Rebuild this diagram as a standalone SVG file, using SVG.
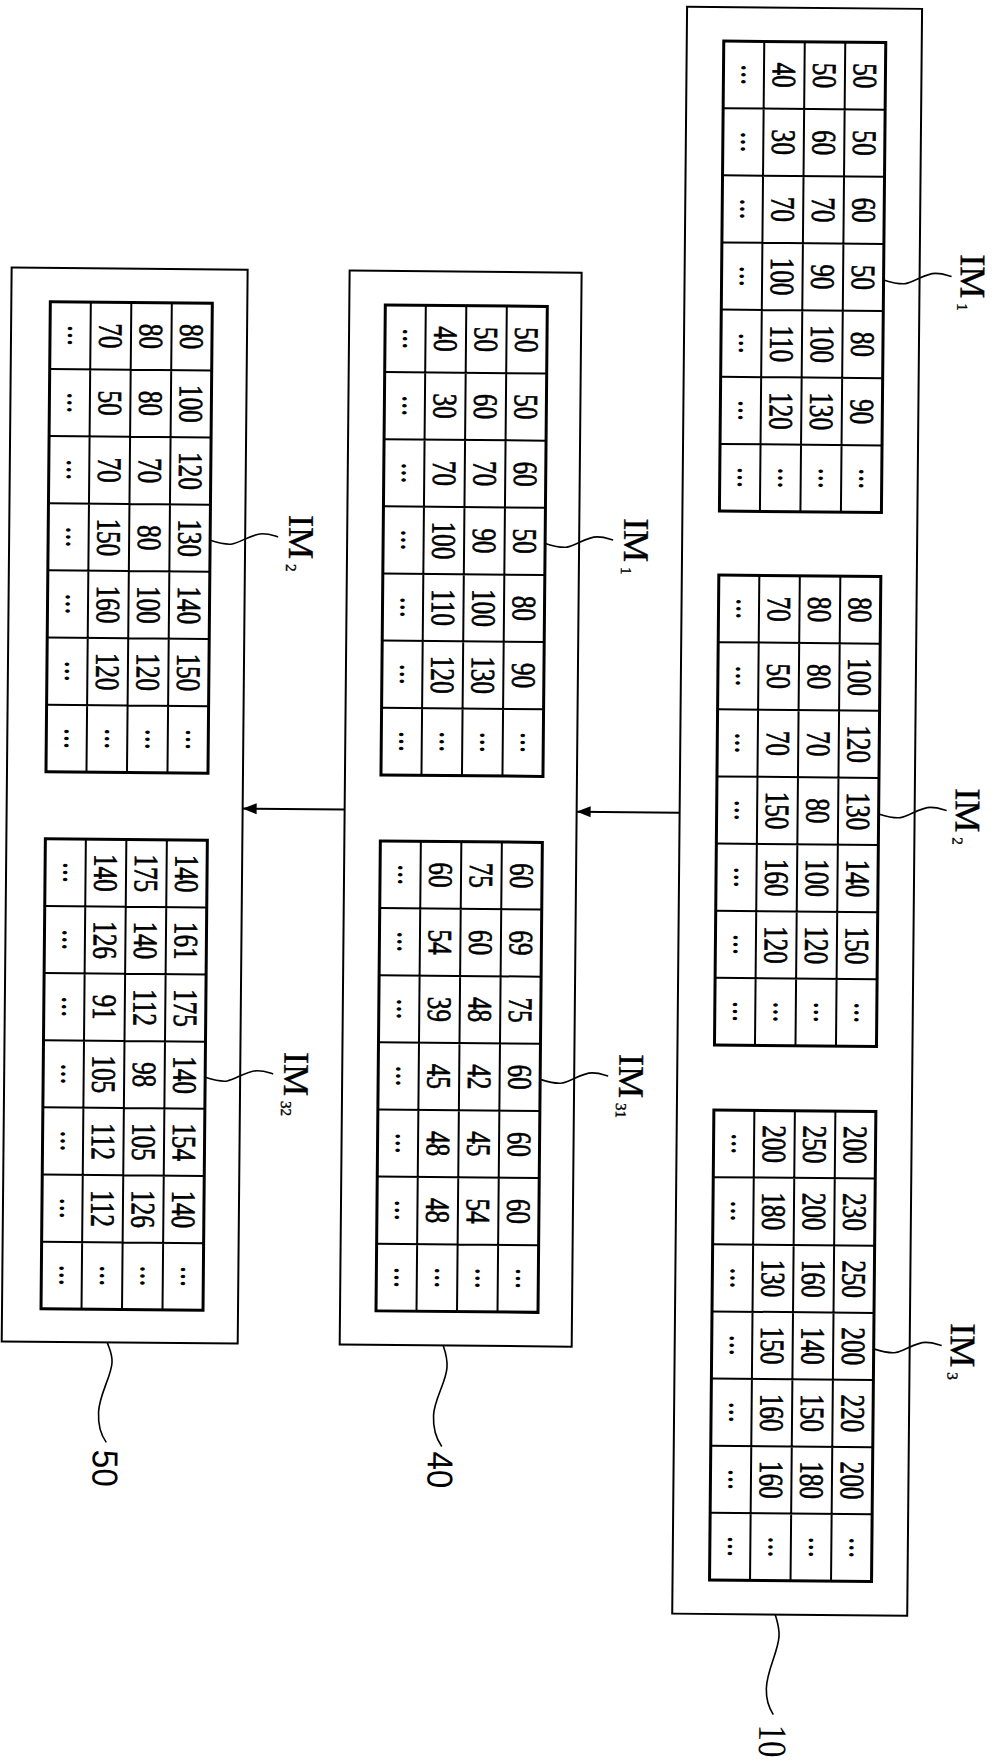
<svg xmlns="http://www.w3.org/2000/svg" xmlns:xlink="http://www.w3.org/1999/xlink" width="1002" height="1764" viewBox="0 0 1002 1764">
<style>
.num{font-family:"Liberation Serif",serif;font-size:34px;text-anchor:middle;fill:#000;stroke:#000;stroke-width:0.7}
.dot{font-size:28px;stroke-width:1.2}
.lbl{font-family:"Liberation Serif",serif;font-size:36px;fill:#000;stroke:#000;stroke-width:0.4}
.sub{font-size:15px}
.ref{font-family:"Liberation Sans",sans-serif;font-size:36px;text-anchor:middle;fill:#000}
.refs{font-family:"Liberation Serif",serif;font-size:40px;text-anchor:middle;fill:#000}
.box{fill:#fff;stroke:#000;stroke-width:2}
.tb{fill:none;stroke:#000;stroke-width:3}
.gl{fill:none;stroke:#000;stroke-width:2}
.ld{fill:none;stroke:#000;stroke-width:1.6}
.ar{fill:none;stroke:#000;stroke-width:2}
</style>
<defs>
<marker id="ah" markerUnits="userSpaceOnUse" markerWidth="14" markerHeight="12" refX="14" refY="6" orient="auto">
<path d="M0,0.5 L14,6 L0,11.5 z" fill="#000"/>
</marker>
<g id="grid">
<rect x="0" y="0" width="162" height="470" fill="#fff"/>
<path class="gl" d="M40.5,0V470M81,0V470M121.5,0V470M0,67.14H162M0,134.29H162M0,201.43H162M0,268.57H162M0,335.71H162M0,402.86H162"/>
<rect class="tb" x="0" y="0" width="162" height="470"/>
</g>
<g id="dots" class="num dot">
<g transform="translate(20.25,0) rotate(90) scale(0.75,1)">
<text x="44.76" y="1.5">…</text><text x="134.29" y="1.5">…</text><text x="223.81" y="1.5">…</text><text x="313.33" y="1.5">…</text><text x="402.86" y="1.5">…</text><text x="492.38" y="1.5">…</text><text x="581.9" y="1.5">…</text>
</g>
<g transform="translate(60.75,0) rotate(90) scale(0.75,1)"><text x="581.9" y="1.5">…</text></g>
<g transform="translate(101.25,0) rotate(90) scale(0.75,1)"><text x="581.9" y="1.5">…</text></g>
<g transform="translate(141.75,0) rotate(90) scale(0.75,1)"><text x="581.9" y="1.5">…</text></g>
</g>
</defs>
<rect x="0" y="0" width="1002" height="1764" fill="#fff"/>
<g transform="rotate(0.53 500 880)">

<g id="box10">
<rect class="box" x="679" y="5" width="235" height="1607"/>
<g id="box10-im1" transform="translate(716,39)">
<use xlink:href="#grid" href="#grid"/><use xlink:href="#dots" href="#dots"/>
<g class="num" transform="translate(141.75,0) rotate(90) scale(0.74,1)"><text x="45.36" y="11.5">50</text><text x="136.09" y="11.5">50</text><text x="226.84" y="11.5">60</text><text x="317.57" y="11.5">50</text><text x="408.3" y="11.5">80</text><text x="499.04" y="11.5">90</text></g>
<g class="num" transform="translate(101.25,0) rotate(90) scale(0.74,1)"><text x="45.36" y="11.5">50</text><text x="136.09" y="11.5">60</text><text x="226.84" y="11.5">70</text><text x="317.57" y="11.5">90</text><text x="408.3" y="11.5">100</text><text x="499.04" y="11.5">130</text></g>
<g class="num" transform="translate(60.75,0) rotate(90) scale(0.74,1)"><text x="45.36" y="11.5">40</text><text x="136.09" y="11.5">30</text><text x="226.84" y="11.5">70</text><text x="317.57" y="11.5">100</text><text x="408.3" y="11.5">110</text><text x="499.04" y="11.5">120</text></g>
</g>
<g id="box10-im2" transform="translate(716,573)">
<use xlink:href="#grid" href="#grid"/><use xlink:href="#dots" href="#dots"/>
<g class="num" transform="translate(141.75,0) rotate(90) scale(0.74,1)"><text x="45.36" y="11.5">80</text><text x="136.09" y="11.5">100</text><text x="226.84" y="11.5">120</text><text x="317.57" y="11.5">130</text><text x="408.3" y="11.5">140</text><text x="499.04" y="11.5">150</text></g>
<g class="num" transform="translate(101.25,0) rotate(90) scale(0.74,1)"><text x="45.36" y="11.5">80</text><text x="136.09" y="11.5">80</text><text x="226.84" y="11.5">70</text><text x="317.57" y="11.5">80</text><text x="408.3" y="11.5">100</text><text x="499.04" y="11.5">120</text></g>
<g class="num" transform="translate(60.75,0) rotate(90) scale(0.74,1)"><text x="45.36" y="11.5">70</text><text x="136.09" y="11.5">50</text><text x="226.84" y="11.5">70</text><text x="317.57" y="11.5">150</text><text x="408.3" y="11.5">160</text><text x="499.04" y="11.5">120</text></g>
</g>
<g id="box10-im3" transform="translate(716,1108)">
<use xlink:href="#grid" href="#grid"/><use xlink:href="#dots" href="#dots"/>
<g class="num" transform="translate(141.75,0) rotate(90) scale(0.74,1)"><text x="45.36" y="11.5">200</text><text x="136.09" y="11.5">230</text><text x="226.84" y="11.5">250</text><text x="317.57" y="11.5">200</text><text x="408.3" y="11.5">220</text><text x="499.04" y="11.5">200</text></g>
<g class="num" transform="translate(101.25,0) rotate(90) scale(0.74,1)"><text x="45.36" y="11.5">250</text><text x="136.09" y="11.5">200</text><text x="226.84" y="11.5">160</text><text x="317.57" y="11.5">140</text><text x="408.3" y="11.5">150</text><text x="499.04" y="11.5">180</text></g>
<g class="num" transform="translate(60.75,0) rotate(90) scale(0.74,1)"><text x="45.36" y="11.5">200</text><text x="136.09" y="11.5">180</text><text x="226.84" y="11.5">130</text><text x="317.57" y="11.5">150</text><text x="408.3" y="11.5">160</text><text x="499.04" y="11.5">160</text></g>
</g>
<text class="lbl" transform="translate(955,250) rotate(90)">IM<tspan class="sub" dx="5" dy="3">1</tspan></text>
<text class="lbl" transform="translate(955,784) rotate(90)">IM<tspan class="sub" dx="5" dy="3">2</tspan></text>
<text class="lbl" transform="translate(955,1319) rotate(90)">IM<tspan class="sub" dx="5" dy="3">3</tspan></text>
<text class="refs" transform="translate(767,1738.5) rotate(90) scale(0.82,1)">10</text>
</g>

<g id="box40">
<rect class="box" x="344" y="272" width="232" height="1074"/>
<g id="box40-im1" transform="translate(380,306)">
<use xlink:href="#grid" href="#grid"/><use xlink:href="#dots" href="#dots"/>
<g class="num" transform="translate(141.75,0) rotate(90) scale(0.74,1)"><text x="45.36" y="11.5">50</text><text x="136.09" y="11.5">50</text><text x="226.84" y="11.5">60</text><text x="317.57" y="11.5">50</text><text x="408.3" y="11.5">80</text><text x="499.04" y="11.5">90</text></g>
<g class="num" transform="translate(101.25,0) rotate(90) scale(0.74,1)"><text x="45.36" y="11.5">50</text><text x="136.09" y="11.5">60</text><text x="226.84" y="11.5">70</text><text x="317.57" y="11.5">90</text><text x="408.3" y="11.5">100</text><text x="499.04" y="11.5">130</text></g>
<g class="num" transform="translate(60.75,0) rotate(90) scale(0.74,1)"><text x="45.36" y="11.5">40</text><text x="136.09" y="11.5">30</text><text x="226.84" y="11.5">70</text><text x="317.57" y="11.5">100</text><text x="408.3" y="11.5">110</text><text x="499.04" y="11.5">120</text></g>
</g>
<g id="box40-im31" transform="translate(380,842)">
<use xlink:href="#grid" href="#grid"/><use xlink:href="#dots" href="#dots"/>
<g class="num" transform="translate(141.75,0) rotate(90) scale(0.74,1)"><text x="45.36" y="11.5">60</text><text x="136.09" y="11.5">69</text><text x="226.84" y="11.5">75</text><text x="317.57" y="11.5">60</text><text x="408.3" y="11.5">60</text><text x="499.04" y="11.5">60</text></g>
<g class="num" transform="translate(101.25,0) rotate(90) scale(0.74,1)"><text x="45.36" y="11.5">75</text><text x="136.09" y="11.5">60</text><text x="226.84" y="11.5">48</text><text x="317.57" y="11.5">42</text><text x="408.3" y="11.5">45</text><text x="499.04" y="11.5">54</text></g>
<g class="num" transform="translate(60.75,0) rotate(90) scale(0.74,1)"><text x="45.36" y="11.5">60</text><text x="136.09" y="11.5">54</text><text x="226.84" y="11.5">39</text><text x="317.57" y="11.5">45</text><text x="408.3" y="11.5">48</text><text x="499.04" y="11.5">48</text></g>
</g>
<text class="lbl" transform="translate(621,517) rotate(90)">IM<tspan class="sub" dx="5" dy="3">1</tspan></text>
<text class="lbl" transform="translate(621,1053) rotate(90)">IM<tspan class="sub" dx="5" dy="3">31</tspan></text>
<text class="ref" transform="translate(433,1470.5) rotate(90) scale(0.92,1)">40</text>
</g>

<g id="box50">
<rect class="box" x="6" y="272" width="236" height="1074"/>
<g id="box50-im2" transform="translate(45,306)">
<use xlink:href="#grid" href="#grid"/><use xlink:href="#dots" href="#dots"/>
<g class="num" transform="translate(141.75,0) rotate(90) scale(0.74,1)"><text x="45.36" y="11.5">80</text><text x="136.09" y="11.5">100</text><text x="226.84" y="11.5">120</text><text x="317.57" y="11.5">130</text><text x="408.3" y="11.5">140</text><text x="499.04" y="11.5">150</text></g>
<g class="num" transform="translate(101.25,0) rotate(90) scale(0.74,1)"><text x="45.36" y="11.5">80</text><text x="136.09" y="11.5">80</text><text x="226.84" y="11.5">70</text><text x="317.57" y="11.5">80</text><text x="408.3" y="11.5">100</text><text x="499.04" y="11.5">120</text></g>
<g class="num" transform="translate(60.75,0) rotate(90) scale(0.74,1)"><text x="45.36" y="11.5">70</text><text x="136.09" y="11.5">50</text><text x="226.84" y="11.5">70</text><text x="317.57" y="11.5">150</text><text x="408.3" y="11.5">160</text><text x="499.04" y="11.5">120</text></g>
</g>
<g id="box50-im32" transform="translate(45,843)">
<use xlink:href="#grid" href="#grid"/><use xlink:href="#dots" href="#dots"/>
<g class="num" transform="translate(141.75,0) rotate(90) scale(0.74,1)"><text x="45.36" y="11.5">140</text><text x="136.09" y="11.5">161</text><text x="226.84" y="11.5">175</text><text x="317.57" y="11.5">140</text><text x="408.3" y="11.5">154</text><text x="499.04" y="11.5">140</text></g>
<g class="num" transform="translate(101.25,0) rotate(90) scale(0.74,1)"><text x="45.36" y="11.5">175</text><text x="136.09" y="11.5">140</text><text x="226.84" y="11.5">112</text><text x="317.57" y="11.5">98</text><text x="408.3" y="11.5">105</text><text x="499.04" y="11.5">126</text></g>
<g class="num" transform="translate(60.75,0) rotate(90) scale(0.74,1)"><text x="45.36" y="11.5">140</text><text x="136.09" y="11.5">126</text><text x="226.84" y="11.5">91</text><text x="317.57" y="11.5">105</text><text x="408.3" y="11.5">112</text><text x="499.04" y="11.5">112</text></g>
</g>
<text class="lbl" transform="translate(286,517) rotate(90)">IM<tspan class="sub" dx="5" dy="3">2</tspan></text>
<text class="lbl" transform="translate(286,1054) rotate(90)">IM<tspan class="sub" dx="5" dy="3">32</tspan></text>
<text class="ref" transform="translate(98,1472) rotate(90) scale(0.92,1)">50</text>
</g>

<g id="connectors">
<line class="ar" x1="679" y1="811" x2="576" y2="811" marker-end="url(#ah)"/>
<line class="ar" x1="344" y1="811" x2="242" y2="811" marker-end="url(#ah)"/>
<path class="ld" d="M878,276.4 c10,3 16,4.5 22,3.5 c8,-1.5 20,-10.5 30,-10.5 c8,0 12,2 16,3"/>
<path class="ld" d="M878,810.4 c10,3 16,4.5 22,3.5 c8,-1.5 20,-10.5 30,-10.5 c8,0 12,2 16,3"/>
<path class="ld" d="M878,1345.4 c10,3 16,4.5 22,3.5 c8,-1.5 20,-10.5 30,-10.5 c8,0 12,2 16,3"/>
<path class="ld" d="M542,543 c10,3 16,4.5 22,3.5 c8,-1.5 20,-10.5 30,-10.5 c8,0 12,2 16,3"/>
<path class="ld" d="M542,1079 c10,3 16,4.5 22,3.5 c8,-1.5 20,-10.5 30,-10.5 c8,0 12,2 16,3"/>
<path class="ld" d="M207,543 c10,3 16,4.5 22,3.5 c8,-1.5 20,-10.5 30,-10.5 c8,0 12,2 16,3"/>
<path class="ld" d="M207,1080 c10,3 16,4.5 22,3.5 c8,-1.5 20,-10.5 30,-10.5 c8,0 12,2 16,3"/>
<path class="ld" d="M782,1612 C784,1619 786.5,1625 786,1634 C785,1650 774,1668 773.8,1686 C773.6,1698 777,1706 781,1712"/>
<path class="ld" d="M447.5,1346 C450,1353 452,1360 451.5,1368 C451,1382 439,1400 438.5,1416 C438,1430 442,1440 447,1447"/>
<path class="ld" d="M111.5,1346 C114,1353 117,1358 116.5,1366 C116,1380 104,1398 103.5,1416 C103,1430 107,1440 111.5,1446"/>
</g>
</g>
</svg>
